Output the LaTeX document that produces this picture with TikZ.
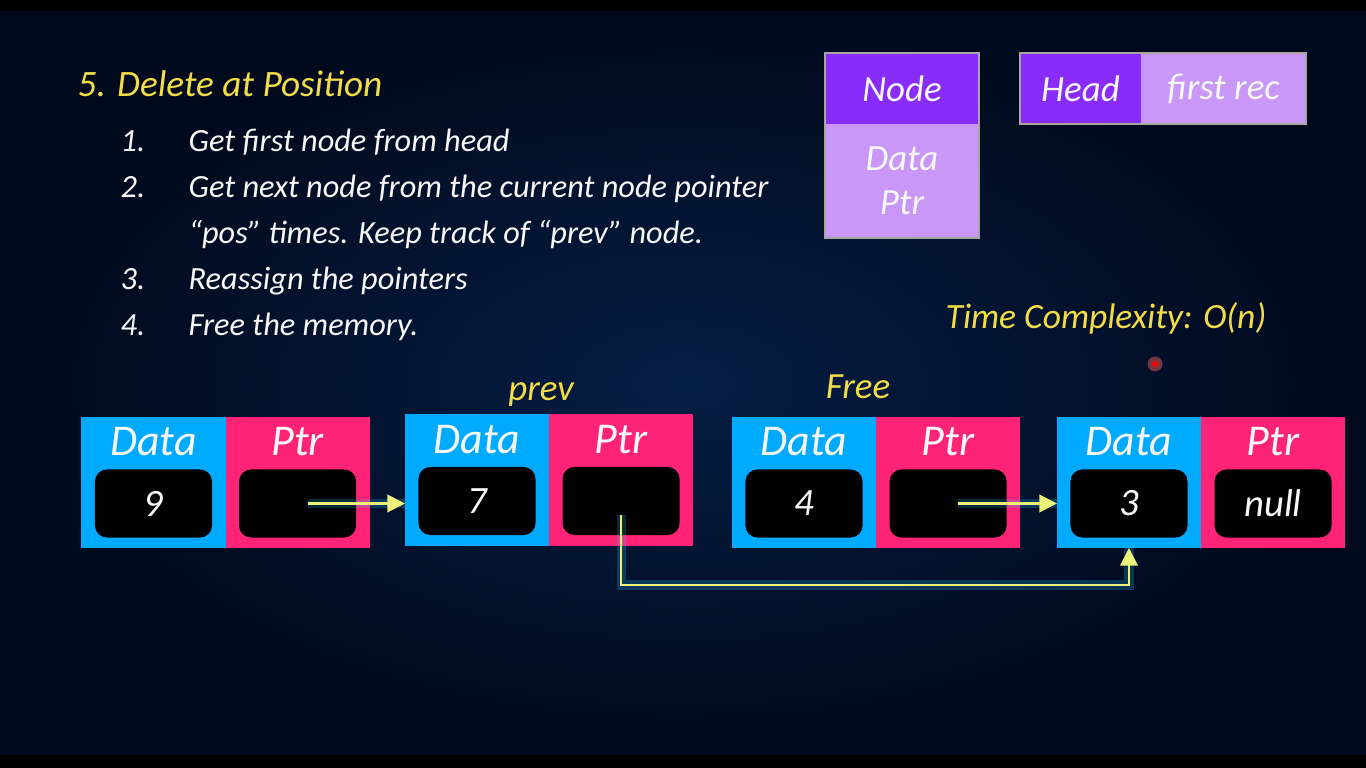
\documentclass[tikz,border=0pt]{standalone}
\usepackage{fontspec}
\setmainfont{Carlito}
\usetikzlibrary{positioning,arrows.meta}

\definecolor{bgin}{RGB}{5,30,68}
\definecolor{bgout}{RGB}{1,9,28}
\definecolor{datablue}{RGB}{0,170,255}
\definecolor{ptrpink}{RGB}{255,35,120}
\definecolor{hdpurple}{RGB}{138,44,249}
\definecolor{ltpurple}{RGB}{200,151,247}
\definecolor{chalkyellow}{RGB}{242,220,72}
\definecolor{linkyellow}{RGB}{238,242,122}
\definecolor{glowcyan}{RGB}{40,200,255}
\definecolor{chalkwhite}{RGB}{248,248,248}

\begin{document}
\begin{tikzpicture}[x=0.01cm, y=0.01cm,
    hand/.style={font=\fontsize{#1}{#1}\selectfont\itshape},
    datacell/.style={fill=datablue, minimum width=1.44cm, minimum height=1.31cm, inner sep=0pt, outer sep=0pt},
    ptrcell/.style={fill=ptrpink, minimum width=1.44cm, minimum height=1.31cm, inner sep=0pt, outer sep=0pt},
    valbox/.style={fill=black, rounded corners=0.12cm, minimum width=1.17cm, minimum height=0.68cm, inner sep=0pt, text=chalkwhite, hand=11pt},
    celllbl/.style={text=chalkwhite, hand=12.5pt, inner sep=0pt},
    stepline/.style={text=chalkwhite, hand=9.2pt, inner sep=0pt, anchor=base west},
    tag/.style={text=chalkyellow, hand=10.5pt, inner sep=0pt},
    legendbox/.style={minimum width=#1, minimum height=0.71cm, inner sep=0pt, outer sep=0pt, text=chalkwhite, hand=10.5pt},
    link/.style={draw=linkyellow, line width=0.6pt, -{Triangle[length=5pt,width=5pt]},
        preaction={draw=glowcyan, draw opacity=0.22, line width=2.6pt, -}}]

    % 背景
    \useasboundingbox (0,0) rectangle (1366,-768);
    \fill[black] (0,0) rectangle (1366,-768);
    \shade[inner color=bgin, outer color=bgout] (0,-12) rectangle (1366,-755);

    % 标题与步骤
    \node[tag, hand=10.6pt, anchor=base west] (title) at (77,-97) {5. Delete at Position};
    \node[stepline] (n1) at (120,-152) {1.};
    \node[stepline] (s1) at (188,-152) {Get first node from head};
    \node[stepline] (n2) at (120,-198) {2.};
    \node[stepline] (s2) at (188,-198) {Get next node from the current node pointer};
    \node[stepline] (s2b) at (188,-244) {“pos” times. Keep track of “prev” node.};
    \node[stepline] (n3) at (120,-290) {3.};
    \node[stepline] (s3) at (188,-290) {Reassign the pointers};
    \node[stepline] (n4) at (120,-336) {4.};
    \node[stepline] (s4) at (188,-336) {Free the memory.};

    % 图例
    \node[legendbox=1.54cm, fill=hdpurple] (lgtop) at (902,-88.5) {Node};
    \node[legendbox=1.54cm, minimum height=1.14cm, fill=ltpurple, align=center, below=0pt of lgtop] (lgbot) {Data\\[2pt]Ptr};
    \draw[gray!70, line width=0.6pt] (lgtop.north west) rectangle (lgbot.south east);
    \node[legendbox=1.21cm, fill=hdpurple] (head) at (1080.5,-88.5) {Head};
    \node[legendbox=1.65cm, fill=ltpurple, right=0pt of head] (firstrec) {first rec};
    \draw[gray!70, line width=0.6pt] (head.north west) rectangle (firstrec.south east);

    \node[tag, hand=10.1pt, anchor=base west] (tc) at (945,-329) {Time Complexity: O(n)};
    % 激光笔
    \fill[red!60, opacity=0.45] (1155,-364) circle (0.075cm);
    \fill[red] (1155,-364) circle (0.03cm);

    % 链表节点
    \node[datacell] (d1) at (153.5,-482.5) {};
    \node[ptrcell, right=0pt of d1] (p1) {};
    \node[datacell] (d2) at (477,-480) {};
    \node[ptrcell, right=0pt of d2] (p2) {};
    \node[datacell] (d3) at (804,-482.5) {};
    \node[ptrcell, right=0pt of d3] (p3) {};
    \node[datacell] (d4) at (1129,-482.5) {};
    \node[ptrcell, right=0pt of d4] (p4) {};

    \node[celllbl] at ([yshift=-0.25cm]d1.north) {Data};
    \node[celllbl] at ([yshift=-0.25cm]p1.north) {Ptr};
    \node[celllbl] at ([yshift=-0.25cm]d2.north) {Data};
    \node[celllbl] at ([yshift=-0.25cm]p2.north) {Ptr};
    \node[celllbl] at ([yshift=-0.25cm]d3.north) {Data};
    \node[celllbl] at ([yshift=-0.25cm]p3.north) {Ptr};
    \node[celllbl] at ([yshift=-0.25cm]d4.north) {Data};
    \node[celllbl] at ([yshift=-0.25cm]p4.north) {Ptr};

    \node[valbox] (d1v) at ([yshift=-0.21cm]d1.center) {9};
    \node[valbox] (p1v) at ([yshift=-0.21cm]p1.center) {};
    \node[valbox] (d2v) at ([yshift=-0.21cm]d2.center) {7};
    \node[valbox] (p2v) at ([yshift=-0.21cm]p2.center) {};
    \node[valbox] (d3v) at ([yshift=-0.21cm]d3.center) {4};
    \node[valbox] (p3v) at ([yshift=-0.21cm]p3.center) {};
    \node[valbox] (d4v) at ([yshift=-0.21cm]d4.center) {3};
    \node[valbox] (p4v) at ([yshift=-0.21cm]p4.center) {null};

    \node[tag] (prev) at ([xshift=-0.08cm, yshift=0.2cm]d2.north east) {prev};
    \node[tag] (free) at ([xshift=-0.18cm, yshift=0.3cm]d3.north east) {Free};

    % 指针
    \coordinate (bend) at (0,-585);
    \draw[link] ([xshift=0.1cm]p1v.center) -- (p1v.center -| d2.west);
    \draw[link] ([xshift=0.1cm]p3v.center) -- (p3v.center -| d4.west);
    \draw[link] ([yshift=-0.14cm]p2v.center) -- (p2v.center |- bend) -| (d4.south);
\end{tikzpicture}
\end{document}
